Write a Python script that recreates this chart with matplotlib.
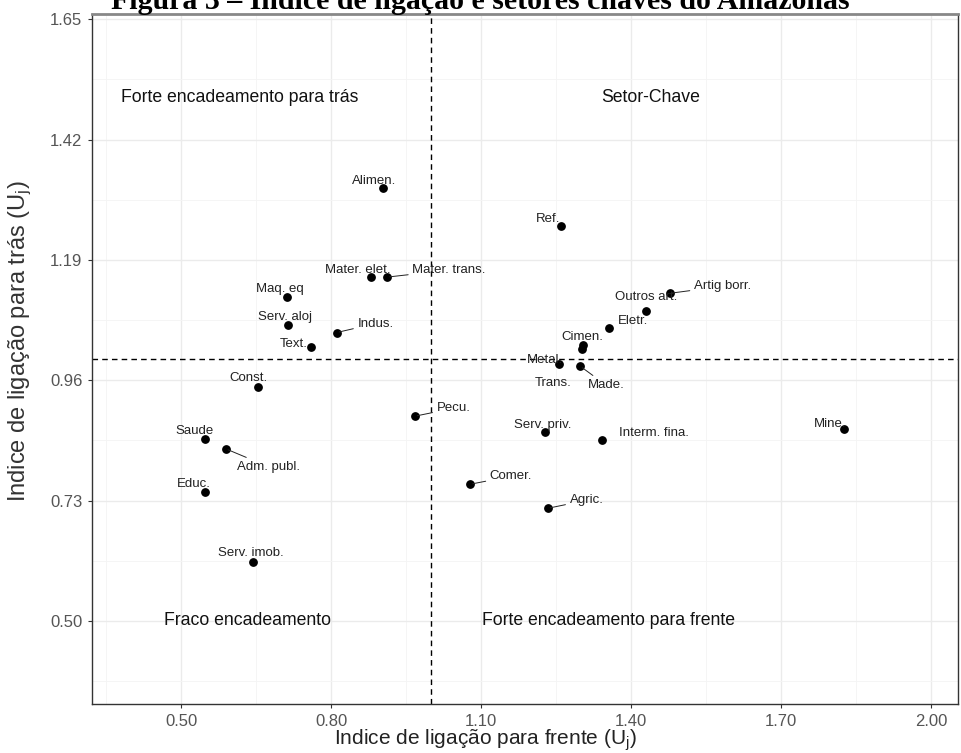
import matplotlib
matplotlib.use("Agg")
import matplotlib.pyplot as plt
import numpy as np

plt.rcParams['font.family'] = ['Liberation Sans', 'DejaVu Sans']
plt.rcParams['mathtext.fontset'] = 'custom'
plt.rcParams['mathtext.rm'] = 'Liberation Sans'
plt.rcParams['mathtext.it'] = 'Liberation Sans'

# ---- data ----
sectors = ["Alimen.", "Ref.", "Mater. elet.", "Mater. trans.", "Maq. eq", "Serv. aloj",
           "Indus.", "Text.", "Const.", "Pecu.", "Saude", "Adm. publ.", "Educ.",
           "Serv. imob.", "Comer.", "Agric.", "Serv. priv.", "Interm. fina.", "Mine.",
           "Artig borr.", "Outros art.", "Eletr.", "Cimen.", "Metal.", "Trans.", "Made."]
forward = [0.904, 1.260, 0.880, 0.912, 0.712, 0.714,
           0.811, 0.759, 0.653, 0.967, 0.547, 0.589, 0.547,
           0.643, 1.078, 1.233, 1.228, 1.342, 1.825,
           1.477, 1.430, 1.355, 1.303, 1.255, 1.301, 1.298]
backward = [1.328, 1.255, 1.157, 1.157, 1.119, 1.065,
            1.051, 1.023, 0.947, 0.891, 0.847, 0.829, 0.746,
            0.612, 0.761, 0.715, 0.861, 0.846, 0.867,
            1.126, 1.092, 1.060, 1.027, 0.990, 1.019, 0.987]
xticks = [0.50, 0.80, 1.10, 1.40, 1.70, 2.00]
yticks = [0.50, 0.73, 0.96, 1.19, 1.42, 1.65]
quadrants = ["Forte encadeamento para trás", "Setor-Chave",
             "Fraco encadeamento", "Forte encadeamento para frente"]
quad_x = [0.618, 1.44, 0.632, 1.355]
quad_y = [1.50, 1.50, 0.50, 0.50]

# ---- label placement (style: pixel offsets, segment flag) ----
offsets = [(-9, 7), (-13, 7), (-13, 7), (62, 7), (-7, 8), (-3, 8),
           (39, 9), (-17, 3), (-9, 9), (39, 8), (-10, 8), (43, -18), (-11, 8),
           (-2, 9), (41, 8), (39, 8), (-2, 7), (52, 7), (-13, 5),
           (53, 7), (0, 14), (24, 7), (0, 8), (-14, 4), (-28, -34), (26, -19)]
segment = ["Mater. trans.", "Indus.", "Pecu.", "Adm. publ.", "Comer.", "Agric.",
           "Artig borr.", "Made."]

fig = plt.figure(figsize=(9.61, 7.53), dpi=100)
ax = fig.add_axes([92/961, 1-704/753, (958-92)/961, (704-14)/753])

ax.set_xlim(0.322, 2.054)
ax.set_ylim(0.341, 1.66)
ax.set_xticks(xticks)
ax.set_yticks(yticks)
ax.set_xticklabels([f"{v:.2f}" for v in xticks])
ax.set_yticklabels([f"{v:.2f}" for v in yticks])
ax.set_xticks([0.35, 0.65, 0.95, 1.25, 1.55, 1.85], minor=True)
ax.set_yticks([0.385, 0.615, 0.845, 1.075, 1.305, 1.535], minor=True)
ax.grid(True, which='major', color='#ebebeb', lw=1.0)
ax.grid(True, which='minor', color='#f4f4f4', lw=0.6)
ax.set_axisbelow(True)
ax.tick_params(axis='both', which='major', length=3, width=0.8, color='#333333',
               labelcolor='#555555', labelsize=12, pad=4)
ax.tick_params(axis='both', which='minor', length=0)
for s in ax.spines.values():
    s.set_color('#333333')
    s.set_linewidth(1.0)
ax.spines['top'].set_color('#888888')
ax.spines['top'].set_linewidth(2)

ax.axvline(1.0, color='black', lw=1, ls=(0, (4, 3)))
ax.axhline(1.0, color='black', lw=1, ls=(0, (4, 3)))

ax.scatter(forward, backward, s=28, color='black', zorder=3)

for name, x, y, (dx, dy) in zip(sectors, forward, backward, offsets):
    ap = None
    if name in segment:
        ap = dict(arrowstyle='-', lw=0.7, color='#222222', shrinkA=1, shrinkB=2)
    ax.annotate(name, (x, y), xytext=(dx, dy), textcoords='offset pixels',
                ha='center', va='center', fontsize=9.5, color='#222222',
                arrowprops=ap, zorder=4)

for t, x, y in zip(quadrants, quad_x, quad_y):
    ax.text(x, y, t, ha='center', va='center', fontsize=12.7, color='#111111')

ax.set_xlabel("Indice de ligação para frente (U$_\\mathregular{j}$)", fontsize=15,
              color='#222222')
ax.xaxis.set_label_coords((485 - 92) / 866, -(740 - 704) / 690)
ax.xaxis.label.set_va('center')
ax.set_ylabel("Indice de ligação para trás (U$_\\mathregular{j}$)", fontsize=17,
              color='#333333')
ax.yaxis.set_label_coords((20 - 92) / 866, (704 - 341) / 690)
ax.yaxis.label.set_va('center')

fig.text(0.5, 1 - 9/753, "Figura 3 – Índice de ligação e setores chaves do Amazonas",
         ha='center', va='baseline', fontsize=21.5, fontweight='bold',
         family=['Liberation Serif', 'DejaVu Serif'])

fig.savefig("out.png", dpi=100)
